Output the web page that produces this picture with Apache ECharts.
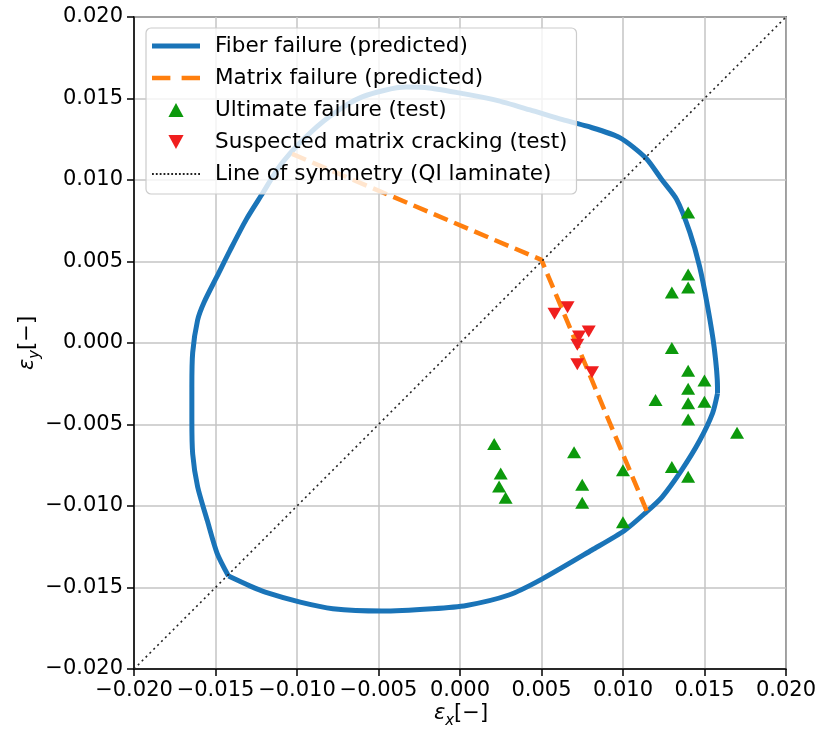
<!DOCTYPE html>
<html>
<head>
<meta charset="utf-8">
<script src="https://cdn.jsdelivr.net/npm/echarts@6/dist/echarts.min.js"></script>
<style>
html,body{margin:0;padding:0;background:#fff;}
#chart{width:819px;height:729px;}
</style>
</head>
<body>
<div id="chart"></div>
<script>
// ---- data ----
const seriesNames = ['Fiber failure (predicted)', 'Matrix failure (predicted)', 'Ultimate failure (test)', 'Suspected matrix cracking (test)', 'Line of symmetry (QI laminate)'];

// fiber failure envelope, part 1: lower-left corner -> up the left side -> top -> right tip
const fiberUpX = [-0.0142, -0.0149, -0.0155, -0.0161, -0.0164, -0.01645, -0.01645, -0.0164, -0.0161, -0.0157, -0.0149, -0.0141, -0.0131, -0.0121, -0.0111, -0.00965, -0.0080, -0.0060, -0.0033, -0.0019, 0.0002, 0.0022, 0.0043, 0.0063, 0.0078, 0.0098, 0.0114, 0.0124, 0.0133, 0.0141, 0.0147, 0.0152, 0.0156, 0.0158, 0.0158];
const fiberUpY = [-0.0143, -0.0129, -0.0109, -0.0088, -0.0068, -0.0047, -0.0027, -0.0006, 0.0014, 0.0025, 0.0041, 0.0057, 0.0076, 0.0092, 0.0108, 0.01245, 0.0139, 0.0151, 0.0157, 0.01565, 0.0153, 0.0149, 0.0143, 0.0137, 0.0133, 0.0126, 0.01135, 0.0100, 0.0088, 0.0068, 0.0047, 0.0022, -0.0003, -0.0027, -0.0031];
// part 2: right tip -> bottom -> lower-left corner
const fiberLowX = [0.0158, 0.0155, 0.0147, 0.0136, 0.0124, 0.0114, 0.0101, 0.0081, 0.0050, 0.0030, 0.0004, -0.0017, -0.0048, -0.0078, -0.0098, -0.0119, -0.0129, -0.0142];
const fiberLowY = [-0.0031, -0.0043, -0.0060, -0.0078, -0.00945, -0.0104, -0.0115, -0.0127, -0.0145, -0.01546, -0.0161, -0.0163, -0.01644, -0.0163, -0.0159, -0.0153, -0.0149, -0.0143];

const matrixX = [-0.0103, 0.0050, 0.0115];
const matrixY = [0.0116, 0.0051, -0.0104];

const ultX = [0.014, 0.014, 0.014, 0.013, 0.013, 0.014, 0.015, 0.014, 0.012, 0.014, 0.015, 0.014, 0.017, 0.0021, 0.007, 0.010, 0.013, 0.014, 0.0025, 0.0024, 0.0028, 0.0075, 0.0075, 0.010];
const ultY = [0.0080, 0.0042, 0.0034, 0.0031, -0.0003, -0.0017, -0.0023, -0.0028, -0.0035, -0.0037, -0.0036, -0.0047, -0.0055, -0.0062, -0.0067, -0.0078, -0.0076, -0.0082, -0.0080, -0.0088, -0.0095, -0.0087, -0.0098, -0.0110];

const crackX = [0.0058, 0.0066, 0.0079, 0.0073, 0.0072, 0.0072, 0.0081];
const crackY = [0.0018, 0.0022, 0.0007, 0.0004, -0.0001, -0.0013, -0.0018];

const symX = [-0.020, 0.020];
const symY = [-0.020, 0.020];

const axisMin = -0.020, axisMax = 0.020, axisStep = 0.005;

// ---- helpers ----
const zip = (a, b) => a.map((v, i) => [v, b[i]]);
const fmt = v => {
  const s = Math.abs(v) < 1e-9 ? '0.000' : v.toFixed(3);
  return s.replace('-', '\u2212');
};
const FONT = 'DejaVu Sans';
const C_FIBER = '#1a74b8', C_MATRIX = '#ff7f0e', C_ULT = '#0c990c', C_CRACK = '#f01e1e', C_SYM = '#222';
const triUp = 'path://M0,12L6.5,0L13,12Z';
const triDown = 'path://M0,0L13,0L6.5,12Z';
// legend handle shapes
const iconSolid = 'path://M0,0h48v5h-48z';
const iconDash = 'path://M0,0h18v4.5h-18z M29,0h18v4.5h-18z';
let dots = [];
for (let i = 0; i < 13; i++) dots.push('M' + (i * 3.6) + ',0h1.7v1.7h-1.7z');
const iconDot = 'path://' + dots.join(' ');

const chart = echarts.init(document.getElementById('chart'), null, {renderer: 'canvas'});

const axisCommon = {
  type: 'value', min: axisMin, max: axisMax, interval: axisStep,
  axisLine: {show: true, onZero: false, lineStyle: {color: '#000', width: 1.5}},
  axisTick: {show: true, inside: false, length: 7, lineStyle: {color: '#000', width: 1.5}},
  axisLabel: {formatter: fmt, fontFamily: FONT, fontSize: 21, color: '#000', margin: 11},
  splitLine: {show: true, lineStyle: {color: '#c4c4c4', width: 1.5}}
};

const richLabel = {
  e: {fontFamily: FONT, fontSize: 21, fontStyle: 'italic', color: '#000', lineHeight: 26, verticalAlign: 'top'},
  s: {fontFamily: FONT, fontSize: 15, fontStyle: 'italic', color: '#000', lineHeight: 15, verticalAlign: 'bottom'},
  n: {fontFamily: FONT, fontSize: 21, color: '#000', lineHeight: 26, verticalAlign: 'top'}
};

const option = {
  animation: false,
  backgroundColor: '#fff',
  textStyle: {fontFamily: FONT},
  grid: {left: 134, top: 17, width: 653, height: 652, show: true, borderColor: '#000', borderWidth: 1.5, backgroundColor: 'transparent'},
  xAxis: Object.assign({}, axisCommon),
  yAxis: Object.assign({}, axisCommon),
  legend: {
    orient: 'vertical', left: 146, top: 28,
    padding: [6, 9, 8, 6],
    itemWidth: 48, itemHeight: 14, itemGap: 8,
    backgroundColor: 'rgba(255,255,255,0.8)',
    borderColor: '#cccccc', borderWidth: 1.2, borderRadius: 5,
    textStyle: {fontFamily: FONT, fontSize: 21.5, color: '#000', lineHeight: 24, padding: [0, 0, 0, 10]},
    data: [
      {name: seriesNames[0], icon: iconSolid, itemStyle: {color: C_FIBER, borderWidth: 0}},
      {name: seriesNames[1], icon: iconDash, itemStyle: {color: C_MATRIX, borderWidth: 0}},
      {name: seriesNames[2], icon: triUp, itemStyle: {color: C_ULT, borderWidth: 0}},
      {name: seriesNames[3], icon: triDown, itemStyle: {color: C_CRACK, borderWidth: 0}},
      {name: seriesNames[4], icon: iconDot, itemStyle: {color: C_SYM, borderWidth: 0}}
    ]
  },
  graphic: [
    {type: 'text', x: 461, y: 716, z: 10,
     style: {text: '{e|\u03b5}{s|x}{n|[\u2212]}', align: 'center', verticalAlign: 'middle', rich: richLabel}},
    {type: 'text', x: 30, y: 343, rotation: Math.PI / 2, z: 10,
     style: {text: '{e|\u03b5}{s|y}{n|[\u2212]}', align: 'center', verticalAlign: 'middle', rich: richLabel}}
  ],
  series: [
    {name: seriesNames[0], type: 'line', data: zip(fiberUpX, fiberUpY), symbol: 'none', smooth: 0.25, z: 2,
     lineStyle: {color: C_FIBER, width: 5}, itemStyle: {color: C_FIBER}},
    {name: seriesNames[0], type: 'line', data: zip(fiberLowX, fiberLowY), symbol: 'none', smooth: 0.25, z: 2,
     lineStyle: {color: C_FIBER, width: 5}, itemStyle: {color: C_FIBER}},
    {name: seriesNames[1], type: 'line', data: zip(matrixX, matrixY), symbol: 'none', z: 3,
     lineStyle: {color: C_MATRIX, width: 4.5, type: [15, 7]}, itemStyle: {color: C_MATRIX}},
    {name: seriesNames[2], type: 'scatter', data: zip(ultX, ultY), symbol: triUp, symbolSize: [14, 12], z: 4,
     itemStyle: {color: C_ULT, opacity: 1}},
    {name: seriesNames[3], type: 'scatter', data: zip(crackX, crackY), symbol: triDown, symbolSize: [14, 12], z: 5,
     itemStyle: {color: C_CRACK, opacity: 1}},
    {name: seriesNames[4], type: 'line', data: zip(symX, symY), symbol: 'none', z: 6,
     lineStyle: {color: C_SYM, width: 1.6, type: [2, 3.5]}, itemStyle: {color: C_SYM}}
  ]
};
chart.setOption(option);
</script>
</body>
</html>
